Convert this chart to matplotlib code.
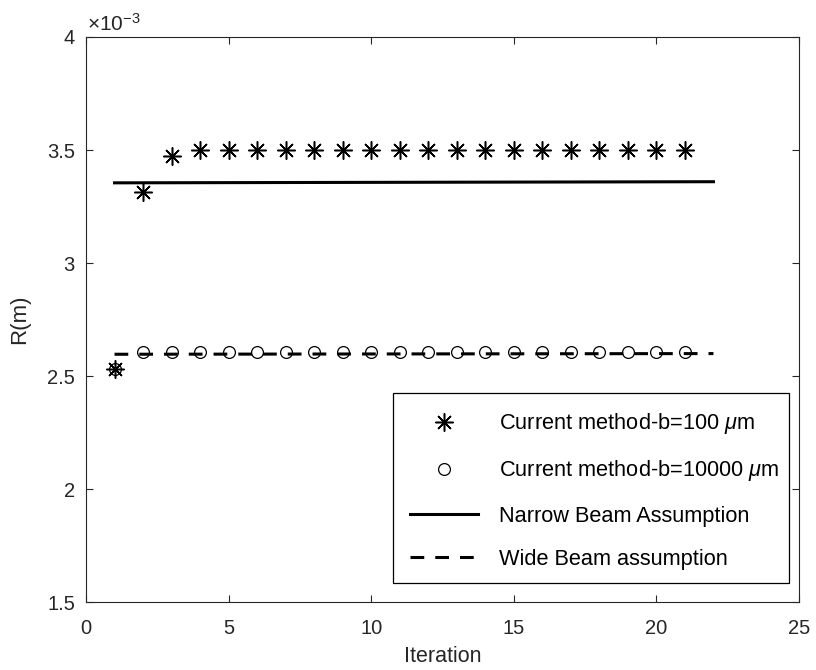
import matplotlib
matplotlib.use('Agg')
import matplotlib.pyplot as plt
from matplotlib.patches import Rectangle
from matplotlib.ticker import FuncFormatter

plt.rcParams['font.family'] = ['Liberation Sans', 'DejaVu Sans']
plt.rcParams['mathtext.fontset'] = 'custom'
plt.rcParams['mathtext.rm'] = 'Liberation Sans'
plt.rcParams['mathtext.it'] = 'Liberation Sans:italic'
plt.rcParams['axes.unicode_minus'] = False

# Iterations and R values (m)
iterations = list(range(1, 22))
r_b100 = [2.534e-3, 3.315e-3, 3.475e-3] + [3.500e-3] * 18
r_b10000 = [2.534e-3] + [2.606e-3] * 20
line_x = [1, 22]
r_narrow = [3.355e-3, 3.360e-3]
r_wide = [2.597e-3, 2.600e-3]

x_ticks = [0, 5, 10, 15, 20, 25]
y_ticks = [1.5e-3, 2e-3, 2.5e-3, 3e-3, 3.5e-3, 4e-3]

labels = ['Current method-b=100 $\\mu$m',
          'Current method-b=10000 $\\mu$m',
          'Narrow Beam Assumption',
          'Wide Beam assumption']

fig = plt.figure(figsize=(8.16, 6.70), dpi=100)
ax = fig.add_axes([0.1054, 0.101, 0.8738, 0.8438])

ax.plot(iterations, r_b100, linestyle='none', marker=(8, 2, 0), ms=13,
        mew=1.1, color='black', label=labels[0])
ax.plot(iterations, r_b10000, linestyle='none', marker='o', ms=8.5,
        mew=0.9, mfc='none', color='black', label=labels[1])
ax.plot(line_x, r_narrow, '-', color='black', lw=2.2, label=labels[2])
ax.plot(line_x, r_wide, color='black', lw=2.2, linestyle=(0, (4.5, 3.6)),
        label=labels[3])

ax.set_xlim(0, 25)
ax.set_ylim(1.5e-3, 4e-3)
ax.set_xticks(x_ticks)
ax.set_yticks(y_ticks)
# MATLAB style: plain tick labels plus a x10^-3 exponent at the top
ax.yaxis.set_major_formatter(FuncFormatter(lambda v, pos: f'{v * 1e3:g}'))
ax.text(0.002, 1.0106, '×10$^{-3}$', transform=ax.transAxes, ha='left',
        va='baseline', fontsize=15, color='0.15')

ax.tick_params(direction='in', top=True, right=True, length=5, width=0.8,
               labelsize=14.5, colors='0.15')
ax.tick_params(axis='x', pad=12)
ax.tick_params(axis='y', pad=8)
for sp in ax.spines.values():
    sp.set_color('0.15')
    sp.set_linewidth(0.8)

ax.set_xlabel('Iteration', fontsize=15.5, color='0.15', labelpad=6)
ax.set_ylabel('R(m)', fontsize=16, color='0.15', labelpad=12)

# legend frame drawn separately so it hugs the text like the original
ax.add_patch(Rectangle((0.4306, 0.0341), 0.5554, 0.3361, transform=ax.transAxes,
                       facecolor='white', edgecolor='black', lw=0.9, zorder=4))
leg = ax.legend(loc='upper left', bbox_to_anchor=(0.4544, 0.338), frameon=False,
                fontsize=15.7, borderpad=0, borderaxespad=0, handlelength=3.1,
                handletextpad=1.0, labelspacing=1.02)
leg.set_zorder(5)

plt.savefig('out.png', dpi=100)
